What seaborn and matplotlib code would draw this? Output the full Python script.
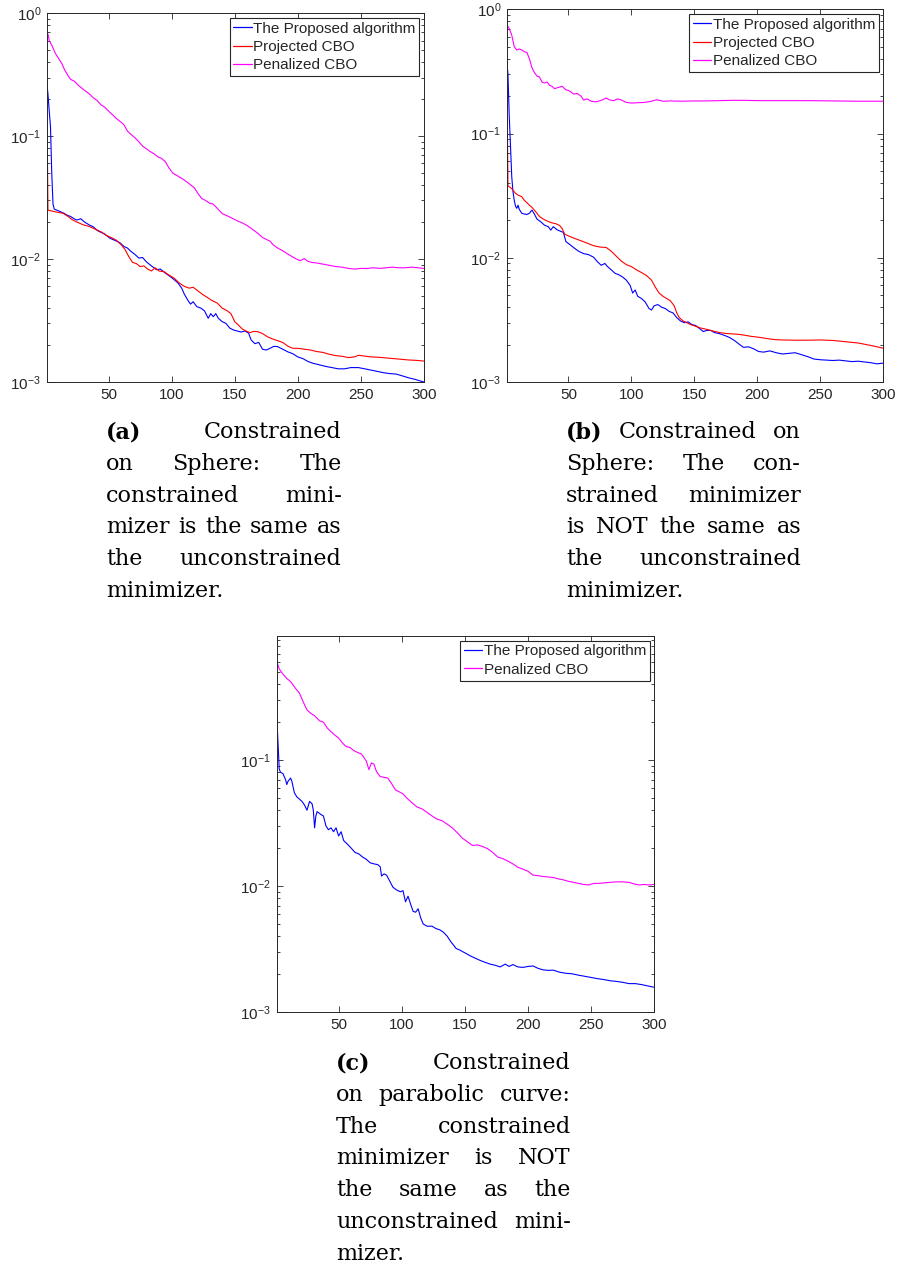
import matplotlib
matplotlib.use("Agg")
import matplotlib.pyplot as plt
import matplotlib.ticker as mticker
import numpy as np
import pandas as pd
import seaborn as sns

# ---- panel (a): constrained on sphere, same minimizer ----
a_prop_it = [1, 2, 3, 4, 5, 6, 7, 10, 12, 15, 17, 20, 23, 25, 28, 31, 35, 38, 41, 44, 47, 51, 55, 59,
             62, 65, 68, 71, 74, 77, 80, 84, 88, 91, 95, 99, 102, 105, 108, 110, 113, 115, 117, 120,
             123, 126, 129, 131, 133, 135, 137, 140, 143, 146, 149, 152, 155, 158, 161, 163, 166, 169,
             172, 175, 178, 181, 184, 188, 192, 196, 200, 204, 208, 212, 217, 222, 227, 232, 237, 242,
             248, 253, 258, 263, 268, 273, 278, 283, 288, 293, 297, 300]
a_prop = [0.28, 0.22, 0.16, 0.12, 0.05, 0.028, 0.0255, 0.0248, 0.0243, 0.0235, 0.0228, 0.0222, 0.0212,
          0.0208, 0.0213, 0.0200, 0.0189, 0.0183, 0.0171, 0.0165, 0.0160, 0.0148, 0.0142, 0.0136,
          0.0127, 0.0123, 0.0115, 0.0109, 0.0102, 0.0103, 0.0095, 0.0088, 0.0082, 0.0083, 0.0077,
          0.0072, 0.0068, 0.0064, 0.0058, 0.0052, 0.0046, 0.0043, 0.0045, 0.0041, 0.0040, 0.0038,
          0.0033, 0.0036, 0.0034, 0.0036, 0.0033, 0.0031, 0.0030, 0.00275, 0.00265, 0.0026, 0.00255,
          0.0026, 0.0025, 0.0022, 0.00205, 0.0021, 0.00185, 0.00182, 0.00188, 0.00195, 0.00194,
          0.00185, 0.00176, 0.0017, 0.0016, 0.00155, 0.00147, 0.00142, 0.00138, 0.00134, 0.00131,
          0.00128, 0.00128, 0.00131, 0.00131, 0.00128, 0.00125, 0.00122, 0.00119, 0.00117, 0.00116,
          0.00112, 0.00108, 0.00105, 0.00102, 0.00100]
a_proj_it = [1, 2, 6, 10, 14, 18, 21, 25, 30, 35, 40, 44, 48, 52, 56, 60, 63, 66, 69, 72, 75, 78, 81,
             84, 87, 90, 94, 98, 102, 106, 110, 114, 117, 120, 124, 128, 132, 136, 140, 144, 147, 150,
             153, 156, 159, 162, 165, 168, 172, 176, 180, 184, 188, 192, 196, 200, 205, 210, 215, 220,
             225, 230, 235, 240, 245, 248, 252, 258, 264, 270, 276, 282, 288, 294, 300]
a_proj = [0.29, 0.025, 0.0245, 0.0240, 0.0236, 0.0222, 0.0210, 0.0200, 0.0190, 0.0184, 0.0174, 0.0167,
          0.0156, 0.0150, 0.0143, 0.0131, 0.0120, 0.0105, 0.0094, 0.0092, 0.0087, 0.0088, 0.0083,
          0.0080, 0.0085, 0.0080, 0.0079, 0.0074, 0.0070, 0.0064, 0.0060, 0.0058, 0.0059, 0.0056,
          0.0052, 0.0049, 0.0046, 0.0044, 0.0040, 0.0038, 0.0036, 0.0031, 0.0029, 0.0027, 0.0026,
          0.00252, 0.00258, 0.00257, 0.00248, 0.00233, 0.00224, 0.00217, 0.0021, 0.00196, 0.00188,
          0.00188, 0.00185, 0.00182, 0.00177, 0.00174, 0.00168, 0.00164, 0.00162, 0.00158, 0.0016,
          0.00165, 0.00163, 0.0016, 0.00159, 0.00157, 0.00155, 0.00153, 0.00151, 0.0015, 0.00148]
a_pen_it = [1, 2, 3, 5, 8, 11, 13, 15, 18, 20, 23, 26, 29, 32, 35, 38, 41, 44, 47, 50, 53, 56, 59, 62,
            65, 68, 71, 74, 77, 80, 83, 86, 89, 92, 95, 98, 101, 104, 107, 110, 114, 118, 121, 124,
            127, 130, 133, 136, 140, 144, 148, 152, 156, 160, 164, 168, 172, 176, 178, 180, 184, 188,
            192, 196, 199, 202, 205, 208, 211, 215, 220, 225, 230, 235, 240, 245, 250, 255, 260, 265,
            270, 275, 280, 285, 290, 295, 300]
a_pen = [0.66, 0.68, 0.60, 0.55, 0.47, 0.42, 0.39, 0.35, 0.31, 0.29, 0.28, 0.26, 0.245, 0.232, 0.22,
         0.205, 0.195, 0.18, 0.172, 0.16, 0.15, 0.14, 0.132, 0.125, 0.11, 0.103, 0.097, 0.09, 0.083,
         0.079, 0.075, 0.072, 0.068, 0.066, 0.062, 0.055, 0.05, 0.048, 0.046, 0.044, 0.041, 0.038,
         0.034, 0.031, 0.030, 0.0285, 0.028, 0.026, 0.0235, 0.0225, 0.0215, 0.0205, 0.0197, 0.0187,
         0.0175, 0.0163, 0.015, 0.0143, 0.0140, 0.0132, 0.0123, 0.0117, 0.0110, 0.0104, 0.0100,
         0.0097, 0.0101, 0.0096, 0.0094, 0.0093, 0.0091, 0.0089, 0.0087, 0.0086, 0.0084, 0.0083,
         0.0084, 0.0084, 0.0085, 0.0084, 0.0085, 0.0086, 0.0085, 0.0085, 0.0086, 0.0085, 0.0084]

# ---- panel (b): constrained on sphere, different minimizer ----
b_prop_it = [1, 2, 3, 4, 5, 6, 7, 8, 9, 10, 11, 13, 15, 17, 19, 21, 23, 25, 28, 31, 34, 36, 38, 41,
             44, 46, 48, 51, 55, 58, 62, 66, 70, 73, 76, 79, 81, 84, 87, 90, 93, 96, 99, 101, 103, 105,
             108, 111, 114, 116, 118, 121, 124, 127, 130, 133, 136, 139, 142, 145, 148, 151, 154, 157,
             160, 163, 166, 170, 174, 178, 182, 186, 189, 193, 197, 201, 205, 210, 215, 220, 225, 230,
             235, 240, 245, 250, 255, 260, 265, 270, 275, 280, 285, 290, 295, 300]
b_prop = [0.39, 0.30, 0.14, 0.08, 0.045, 0.034, 0.029, 0.026, 0.025, 0.0265, 0.0245, 0.0228, 0.0225,
          0.0223, 0.0228, 0.0242, 0.0225, 0.0205, 0.0195, 0.0183, 0.0178, 0.0167, 0.0178, 0.0168,
          0.0163, 0.016, 0.0135, 0.0128, 0.0119, 0.0113, 0.0108, 0.0106, 0.0101, 0.0093, 0.0087,
          0.0090, 0.0085, 0.0080, 0.0075, 0.0073, 0.0070, 0.0066, 0.0060, 0.0052, 0.0055, 0.0049,
          0.0047, 0.0044, 0.0039, 0.0038, 0.0041, 0.0042, 0.0040, 0.0039, 0.0037, 0.0036, 0.0033,
          0.0031, 0.0030, 0.00305, 0.0029, 0.00285, 0.0027, 0.00255, 0.0026, 0.0026, 0.0025, 0.00245,
          0.00237, 0.00228, 0.00215, 0.0020, 0.0019, 0.00192, 0.00185, 0.00176, 0.00174, 0.00178,
          0.00172, 0.00168, 0.0017, 0.00172, 0.00166, 0.0016, 0.00153, 0.00151, 0.0015, 0.00149,
          0.0015, 0.00148, 0.00146, 0.00147, 0.00145, 0.00143, 0.0014, 0.00142]
b_proj_it = [1, 2, 5, 8, 10, 13, 15, 17, 19, 21, 24, 27, 30, 33, 36, 40, 43, 45, 47, 50, 55, 60, 65,
             70, 75, 80, 84, 88, 92, 96, 100, 104, 108, 112, 116, 119, 122, 125, 128, 131, 134, 136,
             138, 141, 144, 147, 150, 155, 160, 165, 170, 175, 180, 185, 190, 195, 200, 205, 210, 215,
             220, 230, 240, 250, 260, 270, 280, 290, 300]
b_proj = [0.39, 0.038, 0.036, 0.033, 0.032, 0.031, 0.029, 0.0278, 0.0265, 0.0255, 0.0235, 0.0215,
          0.0205, 0.0198, 0.0192, 0.0188, 0.0182, 0.0172, 0.0155, 0.0150, 0.0143, 0.0137, 0.0131,
          0.0125, 0.0122, 0.0121, 0.0113, 0.0103, 0.0094, 0.0088, 0.0085, 0.0080, 0.0076, 0.0072,
          0.0066, 0.0058, 0.0052, 0.0049, 0.0047, 0.0045, 0.0041, 0.0036, 0.0033, 0.0031, 0.0030,
          0.0029, 0.00283, 0.00272, 0.00265, 0.00257, 0.0025, 0.00246, 0.00244, 0.00242, 0.00238,
          0.00233, 0.0023, 0.00226, 0.00222, 0.00219, 0.00218, 0.00217, 0.00217, 0.00218, 0.00216,
          0.00211, 0.00206, 0.00197, 0.00187]
b_pen_it = [1, 3, 5, 7, 9, 11, 13, 15, 17, 19, 21, 23, 25, 27, 29, 31, 33, 35, 37, 39, 42, 45, 48, 51,
            54, 57, 60, 62, 65, 68, 72, 76, 80, 83, 86, 89, 92, 96, 100, 105, 110, 115, 120, 125, 130,
            140, 150, 160, 170, 180, 190, 200, 220, 240, 260, 280, 300]
b_pen = [0.75, 0.70, 0.62, 0.50, 0.47, 0.48, 0.47, 0.455, 0.45, 0.40, 0.34, 0.31, 0.29, 0.285, 0.26,
         0.255, 0.26, 0.245, 0.24, 0.23, 0.235, 0.24, 0.225, 0.22, 0.208, 0.21, 0.2, 0.186, 0.19,
         0.182, 0.18, 0.185, 0.193, 0.186, 0.184, 0.19, 0.186, 0.178, 0.176, 0.177, 0.178, 0.181,
         0.187, 0.182, 0.183, 0.182, 0.183, 0.183, 0.184, 0.185, 0.185, 0.184, 0.184, 0.184, 0.183,
         0.182, 0.182]

# ---- panel (c): constrained on parabolic curve ----
c_prop_it = [1, 2, 3, 4, 6, 8, 9, 10, 12, 13, 15, 17, 19, 21, 23, 25, 27, 29, 30, 31, 32, 33, 36, 38,
             40, 42, 44, 46, 48, 50, 52, 54, 57, 60, 63, 66, 69, 72, 75, 78, 81, 83, 84, 86, 88, 90,
             93, 96, 99, 101, 103, 105, 107, 109, 111, 113, 115, 117, 120, 124, 127, 130, 133, 136,
             139, 141, 143, 146, 150, 154, 158, 162, 166, 170, 174, 178, 182, 185, 188, 192, 196, 200,
             204, 208, 212, 216, 220, 225, 230, 235, 240, 245, 250, 255, 260, 265, 270, 275, 280, 285,
             290, 295, 300]
c_prop = [0.23, 0.14, 0.085, 0.080, 0.078, 0.070, 0.064, 0.068, 0.072, 0.068, 0.055, 0.051, 0.049,
          0.047, 0.044, 0.040, 0.047, 0.045, 0.040, 0.029, 0.036, 0.039, 0.037, 0.036, 0.030, 0.028,
          0.029, 0.027, 0.029, 0.025, 0.027, 0.023, 0.0215, 0.020, 0.0185, 0.018, 0.017, 0.0163,
          0.0153, 0.015, 0.0148, 0.0142, 0.0120, 0.0125, 0.0122, 0.0112, 0.0098, 0.0093, 0.0090,
          0.0092, 0.0075, 0.0083, 0.0072, 0.0063, 0.0062, 0.0066, 0.0056, 0.0050, 0.0048, 0.0048,
          0.0046, 0.0045, 0.0043, 0.0040, 0.0036, 0.0034, 0.0032, 0.0031, 0.00295, 0.0028, 0.00268,
          0.00257, 0.00248, 0.0024, 0.00235, 0.00228, 0.0024, 0.0023, 0.00238, 0.00228, 0.00226,
          0.0023, 0.00232, 0.00222, 0.00216, 0.00214, 0.00215, 0.00207, 0.00203, 0.00201, 0.00196,
          0.00192, 0.00188, 0.00184, 0.00181, 0.00177, 0.00175, 0.00172, 0.00168, 0.00168, 0.00165,
          0.00161, 0.00157]
c_pen_it = [1, 3, 6, 9, 12, 16, 19, 22, 25, 28, 31, 35, 38, 41, 44, 47, 50, 53, 56, 59, 62, 65, 68, 70,
            72, 74, 76, 78, 80, 83, 86, 89, 92, 95, 98, 101, 104, 108, 112, 116, 120, 124, 128, 132,
            136, 140, 144, 148, 152, 156, 160, 164, 168, 172, 176, 180, 184, 188, 192, 196, 200, 204,
            208, 212, 216, 220, 224, 228, 232, 236, 240, 244, 248, 252, 256, 260, 265, 270, 275, 280,
            284, 288, 292, 296, 300]
c_pen = [0.61, 0.53, 0.48, 0.445, 0.42, 0.37, 0.34, 0.29, 0.25, 0.235, 0.225, 0.205, 0.2, 0.18, 0.168,
         0.158, 0.15, 0.137, 0.128, 0.126, 0.119, 0.115, 0.112, 0.105, 0.098, 0.084, 0.095, 0.093,
         0.081, 0.074, 0.073, 0.072, 0.065, 0.058, 0.056, 0.054, 0.050, 0.046, 0.0425, 0.041, 0.0385,
         0.036, 0.034, 0.033, 0.031, 0.029, 0.0265, 0.024, 0.0225, 0.021, 0.0212, 0.0206, 0.0198,
         0.0185, 0.017, 0.0165, 0.0158, 0.0150, 0.0141, 0.0136, 0.0131, 0.0122, 0.0121, 0.0119,
         0.0118, 0.0117, 0.0114, 0.0112, 0.0109, 0.0107, 0.0105, 0.0103, 0.0102, 0.0105, 0.0105,
         0.0106, 0.0107, 0.0108, 0.0108, 0.0107, 0.0104, 0.0102, 0.0103, 0.0102, 0.0103]

PROP, PROJ, PEN = "The Proposed algorithm", "Projected CBO", "Penalized CBO"
COLORS = {PROP: "#0000ff", PROJ: "#ff0000", PEN: "#ff00ff"}

captions_a = ["(a) Constrained", "on Sphere: The", "constrained mini-",
              "mizer is the same as", "the unconstrained", "minimizer."]
captions_b = ["(b) Constrained on", "Sphere: The con-", "strained minimizer",
              "is NOT the same as", "the unconstrained", "minimizer."]
captions_c = ["(c) Constrained", "on parabolic curve:", "The constrained",
              "minimizer is NOT", "the same as the", "unconstrained mini-", "mizer."]

W, H = 902, 1266
sns.set_style("ticks")
plt.rcParams["font.family"] = ["Liberation Sans", "DejaVu Sans"]
plt.rcParams["mathtext.fontset"] = "custom"
plt.rcParams["mathtext.rm"] = "Liberation Sans"
plt.rcParams["mathtext.it"] = "Liberation Sans:italic"
plt.rcParams["axes.unicode_minus"] = False

fig = plt.figure(figsize=(W / 100, H / 100), dpi=100)


def px_axes(x0, y0, x1, y1):
    return fig.add_axes([x0 / W, 1 - y1 / H, (x1 - x0) / W, (y1 - y0) / H])


def long_df(series):
    return pd.concat([pd.DataFrame({"iteration": it, "error": v, "method": name})
                      for name, it, v in series], ignore_index=True)


def draw_panel(ax, series, ytop):
    df = long_df(series)
    order = [s[0] for s in series]
    sns.lineplot(data=df, x="iteration", y="error", hue="method", hue_order=order,
                 palette=COLORS, estimator=None, sort=False, linewidth=0.8, ax=ax)
    ax.set_yscale("log")
    ax.set_xlim(1, 300)
    ax.set_ylim(1e-3, ytop)
    ax.set_xticks([50, 100, 150, 200, 250, 300])
    ax.yaxis.set_major_locator(mticker.LogLocator(base=10, numticks=10))
    ax.yaxis.set_minor_locator(mticker.LogLocator(base=10, subs=np.arange(2, 10), numticks=10))
    ax.yaxis.set_minor_formatter(mticker.NullFormatter())
    ax.set_xlabel("")
    ax.set_ylabel("")
    ax.tick_params(which="both", direction="in", top=True, right=True, color="#262626",
                   labelcolor="#262626", labelsize=11, width=0.6)
    ax.tick_params(which="major", length=4, pad=4)
    ax.tick_params(which="minor", length=2.2)
    for sp in ax.spines.values():
        sp.set_color("#262626")
        sp.set_linewidth(0.7)
    leg = ax.get_legend()
    handles = leg.legend_handles
    labels = [t.get_text() for t in leg.get_texts()]
    for h in handles:
        h.set_linewidth(0.9)
    ax.legend(handles, labels, loc="upper right", fontsize=11, frameon=True, fancybox=False,
              edgecolor="#262626", framealpha=1, borderaxespad=0.3, borderpad=0.25,
              labelspacing=0.28, handlelength=1.2, handletextpad=0.1)
    ax.get_legend().get_frame().set_linewidth(0.8)


ax_a = px_axes(46.7, 13.3, 424, 382)
draw_panel(ax_a, [(PROP, a_prop_it, a_prop), (PROJ, a_proj_it, a_proj), (PEN, a_pen_it, a_pen)], 1.0)

ax_b = px_axes(506.7, 9.3, 883.3, 382)
draw_panel(ax_b, [(PROP, b_prop_it, b_prop), (PROJ, b_proj_it, b_proj), (PEN, b_pen_it, b_pen)], 1.0)

ax_c = px_axes(276.7, 636, 654.3, 1012)
draw_panel(ax_c, [(PROP, c_prop_it, c_prop), (PEN, c_pen_it, c_pen)], 0.967)

# ---- justified captions set in a serif face ----
renderer = fig.canvas.get_renderer()
CAP_FONT = "DejaVu Serif"
CAP_WIDTH = 235


def text_width(s, size, weight="normal"):
    t = fig.text(0, 0, s, family=CAP_FONT, size=size, weight=weight)
    w = t.get_window_extent(renderer).width
    t.remove()
    return w


# size the serif face so that a naturally spaced line fills the column
CAP_SIZE = 10 * (CAP_WIDTH - 4) / text_width("mizer is the same as", 10)


def caption(lines, x0, x1, y_base, dy):
    space = text_width("a b", CAP_SIZE) - text_width("ab", CAP_SIZE)
    for i, line in enumerate(lines):
        words = line.split(" ")
        texts = []
        for j, w in enumerate(words):
            bold = (i == 0 and j == 0)
            t = fig.text(0, 0, w, family=CAP_FONT, size=CAP_SIZE, color="black",
                         weight="bold" if bold else "normal", va="baseline", ha="left")
            texts.append(t)
        widths = [t.get_window_extent(renderer).width for t in texts]
        if i == len(lines) - 1 or len(words) == 1:
            gap = space
        else:
            gap = (x1 - x0 - sum(widths)) / (len(words) - 1)
        x = x0
        y = y_base + i * dy
        for t, w in zip(texts, widths):
            t.set_position((x / W, 1 - y / H))
            x += w + gap


caption(captions_a, 106, 341.7, 438.3, 31.7)
caption(captions_b, 566, 801, 438.3, 31.7)
caption(captions_c, 336, 570.7, 1069.3, 31.7)

fig.savefig("out.png", dpi=100)
